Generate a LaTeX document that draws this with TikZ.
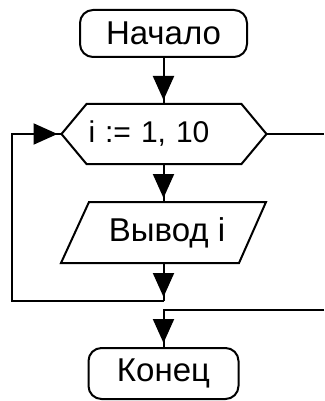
\documentclass[tikz,border=0pt]{standalone}
\usepackage{fontspec}
\setmainfont{Liberation Sans}
\usetikzlibrary{arrows.meta}
\begin{document}
\begin{tikzpicture}[x=1pt,y=1pt,
  line width=2pt,
  every node/.style={font=\fontsize{33}{38}\selectfont, inner sep=0pt},
  term/.style={draw, rounded corners=13pt},
  flow/.style={postaction={draw,-{Triangle[length=24pt,width=21pt]},shorten >=4pt}}
]
\useasboundingbox (0,0) rectangle (324,-401);

% start / end terminators
\node[term, minimum width=167pt, minimum height=47pt] (start) at (163.5,-33.5) {Начало};
\node[term, minimum width=150pt, minimum height=51pt] (end) at (163.5,-373.5) {Конец};

% loop header (hexagon)
\node[font=\fontsize{30}{36}\selectfont, minimum height=58pt, inner xsep=26pt,
      text width=151pt, align=left] (loop) at (164,-134) {i := 1, 10};
\draw (loop.west) -- ([xshift=25pt]loop.north west) -- ([xshift=-25pt]loop.north east)
  -- (loop.east) -- ([xshift=-25pt]loop.south east) -- ([xshift=25pt]loop.south west) -- cycle;

% output block (parallelogram)
\node[minimum width=203pt, minimum height=59pt] (out) at (163.5,-232.5) {\hspace*{7pt}Вывод i};
\draw ([xshift=28pt]out.north west) -- (out.north east) -- ([xshift=-27pt]out.south east)
  -- (out.south west) -- cycle;

% junctions and free ends
\coordinate (j1) at (163.5,-301);
\coordinate (j2) at (12,-301);
\coordinate (exitR) at (324,-134);
\coordinate (enterR) at (324,-310);

% connectors
\draw[flow] (start.south) -- (start.south |- loop.north);
\draw[flow] (start.south |- loop.south) -- (out.north);
\draw[flow] (out.south) -- (j1);
\draw[flow] (j1) -- (j2) |- (loop.west);
\draw (loop.east) -- (exitR);
\draw[flow] (enterR) -| (end.north);
\end{tikzpicture}
\end{document}
